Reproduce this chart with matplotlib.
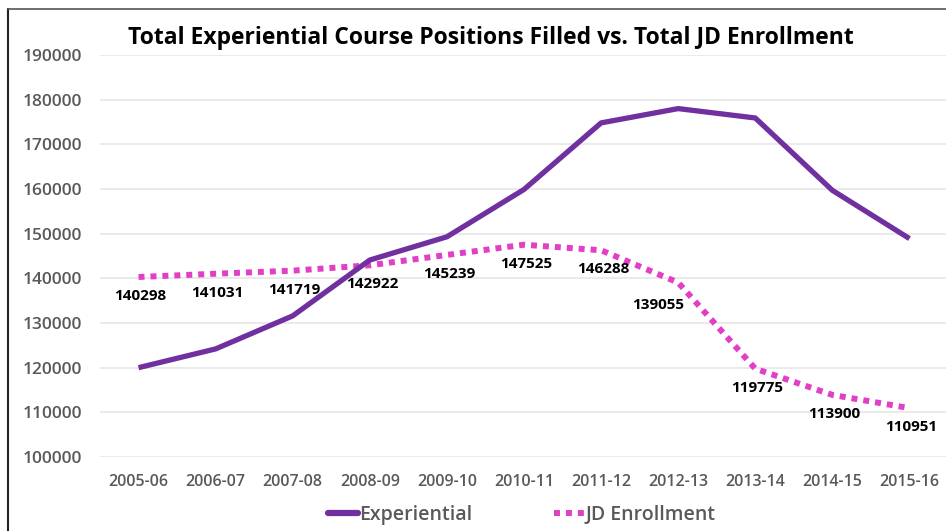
import matplotlib
matplotlib.use("Agg")
import matplotlib.pyplot as plt
from matplotlib.lines import Line2D

years = ["2005-06", "2006-07", "2007-08", "2008-09", "2009-10", "2010-11",
         "2011-12", "2012-13", "2013-14", "2014-15", "2015-16"]
experiential = [120000, 124200, 131600, 144100, 149300, 159900,
                174800, 178000, 175900, 159700, 148900]
jd_enrollment = [140298, 141031, 141719, 142922, 145239, 147525,
                 146288, 139055, 119775, 113900, 110951]
y_ticks = [100000, 110000, 120000, 130000, 140000, 150000,
           160000, 170000, 180000, 190000]

PURPLE = "#7030A0"
MAGENTA = "#E23FC6"
GRAY = "#595959"
FONT = "Open Sans"

W, H = 946, 531
fig = plt.figure(figsize=(W / 100, H / 100), dpi=100)
ax = fig.add_axes([100 / W, 74 / H, 848 / W, 402 / H])

x = list(range(len(years)))
ax.plot(x, experiential, color=PURPLE, lw=3.8, solid_capstyle="butt",
        solid_joinstyle="round", zorder=3)
ax.plot(x, jd_enrollment, color=MAGENTA, lw=4.3, linestyle=(0, (1, 1)),
        dash_capstyle="butt", zorder=2)

# data labels below JD points (Excel put the 2012-13 one a bit left)
for i, v in enumerate(jd_enrollment):
    dx = -20 if years[i] == "2012-13" else 2
    dy = -22 if years[i] == "2012-13" else -19
    ax.annotate(str(v), (i, v), xytext=(dx, dy), textcoords="offset pixels",
                ha="center", va="center", fontsize=11, fontweight="bold",
                family=FONT, color="black", zorder=4)

ax.set_xlim(-0.5, len(years) - 0.5)
ax.set_ylim(y_ticks[0], y_ticks[-1])
ax.set_yticks(y_ticks)
ax.set_yticklabels([str(t) for t in y_ticks])
ax.set_xticks(x)
ax.set_xticklabels(years)
ax.grid(axis="y", color="#E6E6E6", lw=1.2)
ax.set_axisbelow(True)
for s in ax.spines.values():
    s.set_visible(False)
ax.tick_params(axis="both", length=0, colors=GRAY, labelsize=12.5)
ax.tick_params(axis="y", pad=13)
ax.tick_params(axis="x", pad=12)
for lab in ax.get_xticklabels():
    lab.set_family(FONT)
    lab.set_fontweight("semibold")
    lab.set_fontsize(11.5)
for lab in ax.get_yticklabels():
    lab.set_family(FONT)
    lab.set_fontweight("semibold")

fig.text(491 / W, 1 - 38 / H,
         "Total Experiential Course Positions Filled vs. Total JD Enrollment",
         ha="center", va="center", fontsize=16.5, fontweight="bold",
         family=FONT, color="black")

handles = [
    Line2D([], [], color=PURPLE, lw=4.5, solid_capstyle="round"),
    Line2D([], [], color=MAGENTA, lw=4.3, linestyle=(0, (1, 1)),
           dash_capstyle="butt"),
]
leg = fig.legend(handles, ["Experiential", "JD Enrollment"], loc="center",
                 bbox_to_anchor=(522 / W, 1 - 515 / H), ncol=2, frameon=False,
                 handlelength=1.5, handletextpad=0.1, columnspacing=4.2,
                 prop={"family": FONT, "size": 14, "weight": "semibold"})
for t in leg.get_texts():
    t.set_color(GRAY)

# outer frame edges of the original screenshot
fig.add_artist(Line2D([8 / W, 8 / W], [0, 1 - 9 / H], color="#222222", lw=1.5,
                      transform=fig.transFigure))
fig.add_artist(Line2D([8 / W, 1], [1 - 9 / H, 1 - 9 / H], color="#555555",
                      lw=1.2, transform=fig.transFigure))

fig.savefig("out.png", dpi=100)
